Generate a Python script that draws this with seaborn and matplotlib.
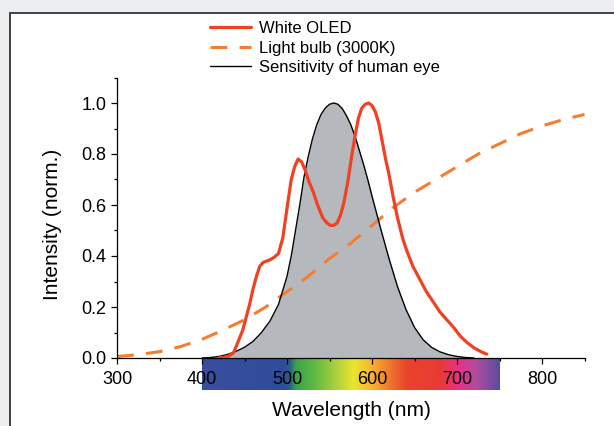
import numpy as np
import pandas as pd
import matplotlib
matplotlib.use("Agg")
import matplotlib.pyplot as plt
import seaborn as sns
from matplotlib.colors import LinearSegmentedColormap
from matplotlib.patches import Rectangle
from matplotlib.ticker import MultipleLocator

# ---- data ----
oled_nm = [420, 430, 437, 442, 448, 452, 456, 460, 464, 468, 472, 476, 480, 485, 490, 495,
           501, 505, 509, 513, 517, 521, 526, 531, 536, 542, 547, 551, 555, 559, 563, 567,
           572, 576, 580, 584, 588, 592, 596, 600, 604, 608, 612, 616, 620, 625, 630, 636,
           641, 648, 656, 664, 672, 680, 688, 696, 704, 712, 720, 728, 735]
oled_int = [0.0, 0.005, 0.02, 0.06, 0.11, 0.16, 0.21, 0.27, 0.32, 0.36, 0.375, 0.38, 0.385,
            0.395, 0.41, 0.47, 0.61, 0.70, 0.75, 0.78, 0.77, 0.74, 0.69, 0.65, 0.60, 0.55,
            0.53, 0.52, 0.52, 0.53, 0.56, 0.61, 0.70, 0.79, 0.87, 0.94, 0.98, 0.995, 1.0,
            0.99, 0.965, 0.92, 0.85, 0.78, 0.72, 0.63, 0.55, 0.47, 0.42, 0.36, 0.31, 0.26,
            0.22, 0.18, 0.15, 0.12, 0.085, 0.06, 0.04, 0.025, 0.015]

bulb_nm = [300, 325, 350, 375, 400, 425, 450, 475, 500, 525, 550, 575, 600, 625, 650,
           675, 700, 725, 750, 775, 800, 825, 850]
bulb_int = [0.006, 0.013, 0.025, 0.045, 0.073, 0.11, 0.15, 0.20, 0.26, 0.32, 0.39, 0.45,
            0.52, 0.59, 0.65, 0.70, 0.75, 0.80, 0.84, 0.88, 0.91, 0.935, 0.955]

eye_nm = [400, 410, 420, 430, 440, 450, 460, 470, 480, 490, 500, 505, 510, 515, 520, 525,
          530, 535, 540, 545, 550, 555, 560, 565, 570, 575, 580, 585, 590, 595, 600, 610,
          620, 630, 640, 650, 660, 670, 680, 690, 700, 710, 720]
eye_int = [0.0, 0.002, 0.006, 0.014, 0.026, 0.042, 0.065, 0.10, 0.145, 0.21, 0.32, 0.40,
           0.50, 0.60, 0.71, 0.79, 0.86, 0.915, 0.955, 0.98, 0.995, 1.0, 0.995, 0.978, 0.95,
           0.915, 0.87, 0.815, 0.76, 0.70, 0.635, 0.51, 0.39, 0.28, 0.19, 0.12, 0.072,
           0.042, 0.024, 0.013, 0.006, 0.002, 0.0]

labels = ["White OLED", "Light bulb (3000K)", "Sensitivity of human eye"]
x_ticks = [300, 400, 500, 600, 700, 800]
y_ticks = [0.0, 0.2, 0.4, 0.6, 0.8, 1.0]

oled = pd.DataFrame({"nm": oled_nm, "I": oled_int})
bulb = pd.DataFrame({"nm": bulb_nm, "I": bulb_int})
eye = pd.DataFrame({"nm": eye_nm, "I": eye_int})

# ---- style ----
sns.set_theme(style="ticks")
plt.rcParams["font.family"] = ["Liberation Sans", "DejaVu Sans"]
plt.rcParams["text.color"] = "black"

RED = "#f04123"
ORANGE = "#f57d32"
GRAY = "#b5b9bd"

fig = plt.figure(figsize=(6.14, 4.26), dpi=100, facecolor="#edeef0")
W, H = 614, 426
# white panel with border
panel = Rectangle((10 / W, -0.1), 1.2, (H - 13) / H + 0.1, transform=fig.transFigure,
                  facecolor="white", edgecolor="#333333", linewidth=1.3, zorder=-10)
fig.patches.append(panel)

ax = fig.add_axes([117 / W, (H - 358) / H, (584.5 - 117) / W, (358 - 77.5) / H])
ax.set_facecolor("none")
ax.set_zorder(1)

ax.fill_between(eye["nm"], eye["I"], 0, color=GRAY, linewidth=0, zorder=1)
sns.lineplot(data=oled, x="nm", y="I", ax=ax, color=RED, lw=2.3, label=labels[0],
             sort=False, zorder=3)
sns.lineplot(data=bulb, x="nm", y="I", ax=ax, color=ORANGE, lw=2.2, label=labels[1],
             sort=False, zorder=2)
ax.lines[-1].set_dashes([5.5, 4.0])
sns.lineplot(data=eye, x="nm", y="I", ax=ax, color="black", lw=1.0, label=labels[2],
             sort=False, zorder=2.5)

ax.set_xlim(300, 850)
ax.set_ylim(0, 1.1)
ax.set_xticks(x_ticks)
ax.set_yticks(y_ticks)
ax.xaxis.set_minor_locator(MultipleLocator(50))
ax.yaxis.set_minor_locator(MultipleLocator(0.1))
ax.tick_params(which="major", direction="out", length=4.5, width=0.9, labelsize=13,
               pad=3, colors="black")
ax.tick_params(which="minor", direction="out", length=2.3, width=0.9, colors="black")
ax.tick_params(axis="x", which="major", pad=5)
for s in ["top", "right"]:
    ax.spines[s].set_visible(False)
for s in ["left", "bottom"]:
    ax.spines[s].set_linewidth(0.9)
    ax.spines[s].set_color("black")

ax.set_xlabel("")
ax.set_ylabel("")
fig.text(351 / W, 1 - 410 / H, "Wavelength (nm)", ha="center", va="center", fontsize=15)
fig.text(53 / W, 1 - 224 / H, "Intensity (norm.)", ha="center", va="center", fontsize=15,
         rotation=90)

# spectrum bar below the axis
stops = [(400, "#3a4e9e"), (495, "#2f4c9a"), (503, "#2c5e8a"), (510, "#3aa24a"),
         (530, "#5ab845"), (560, "#b4d23c"), (578, "#ece62e"), (600, "#f9b233"),
         (620, "#f07a2e"), (640, "#e8452c"), (680, "#e83a36"), (703, "#e6318a"),
         (722, "#b34c9e"), (750, "#5a4ea0")]
cmap = LinearSegmentedColormap.from_list(
    "spec", [((v - 400) / 350, c) for v, c in stops])
grad = np.linspace(0, 1, 512).reshape(1, -1)
ax.imshow(grad, cmap=cmap, aspect="auto", extent=(400, 750, -0.126, -0.007),
          clip_on=False, zorder=0.5, interpolation="bilinear")
ax.set_xlim(300, 850)
ax.set_ylim(0, 1.1)

# legend
ax.get_legend().remove()
handles, labs = ax.get_legend_handles_labels()
leg = fig.legend(handles, labs, loc="upper left", bbox_to_anchor=(210 / W, 1 - 21 / H),
                 frameon=False, fontsize=12, handlelength=2.45, handletextpad=0.48,
                 labelspacing=0.28, borderpad=0, borderaxespad=0)

fig.savefig("out.png", dpi=100, facecolor=fig.get_facecolor())
